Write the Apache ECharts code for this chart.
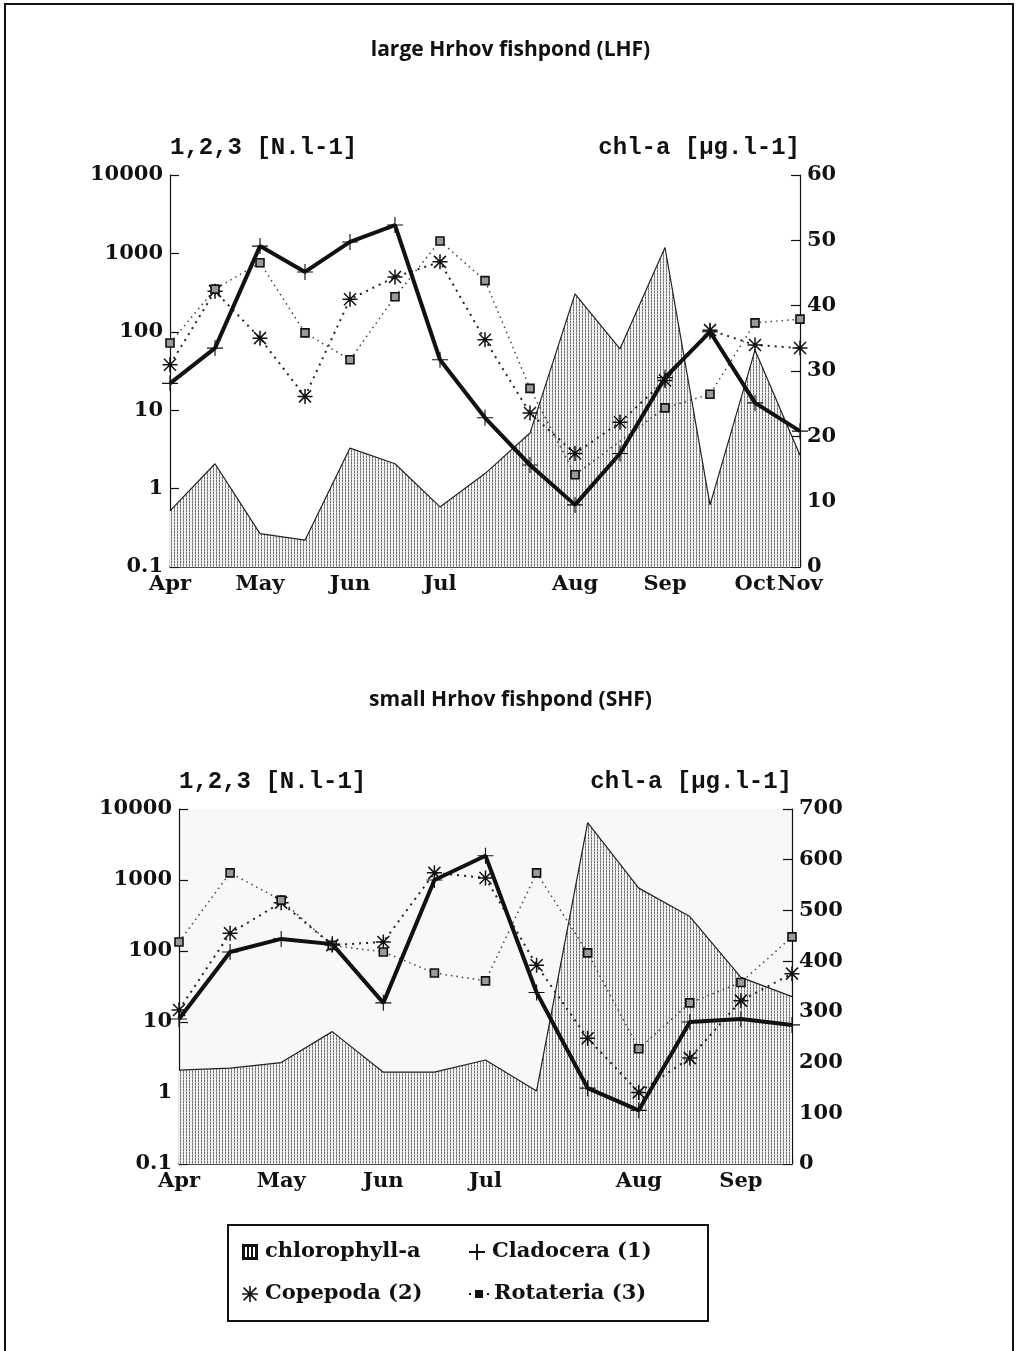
<!DOCTYPE html>
<html>
<head>
<meta charset="utf-8">
<script src="https://cdn.jsdelivr.net/npm/echarts@6/dist/echarts.min.js"></script>
<style>
html,body{margin:0;padding:0;background:#fff;}
#main{width:1021px;height:1351px;}
</style>
</head>
<body>
<div id="main"></div>
<script>
// ---- data ----
const topCategories = ['Apr','','May','','Jun','','Jul','','','Aug','','Sep','','Oct','Nov'];
const topChlorophyll = [8.6,15.8,5.1,4.1,18.2,15.8,9.2,14.3,20.5,41.8,33.4,48.9,9.5,33.2,17.1];
const topCladocera = [22,62,1240,580,1400,2300,44,8,2.0,0.62,2.8,26,100,12.4,5.4];
const topCopepoda = [38,330,83,15,260,500,780,79,9.2,2.8,7,24,105,68,62];
const topRotatoria = [72,350,760,97,44,280,1440,450,19,1.5,null,10.7,16,130,145];

const botCategories = ['Apr','','May','','Jun','','Jul','','','Aug','','Sep',''];
const botChlorophyll = [185,189,200,261,181,181,205,144,673,544,488,368,330];
const botCladocera = [11,97,148,125,18.6,1000,2200,26,1.17,0.57,10,11,9.1];
const botCopepoda = [14.8,178,480,121,134,1260,1070,63,5.9,1.02,3.1,20,48];
const botRotatoria = [134,1260,520,120,97,49,38,1260,94,4.2,18.6,36,158];

const titles = ['large Hrhov fishpond (LHF)', 'small Hrhov fishpond (SHF)'];
const leftAxisName = '1,2,3 [N.l-1]';
const rightAxisName = 'chl-a [µg.l-1]';
const seriesNames = ['chlorophyll-a', 'Cladocera (1)', 'Copepoda (2)', 'Rotateria (3)'];

// ---- styling helpers ----
const ink = '#111';
const tickFont = {fontFamily:'DejaVu Serif', fontWeight:'bold', fontSize:21, color:ink};
const nameFont = {fontFamily:'Liberation Mono', fontWeight:'bold', fontSize:24, color:ink};
const titleFont = {fontFamily:'Open Sans', fontWeight:'bold', fontSize:21, color:ink};

function hatch(){
  const c = document.createElement('canvas');
  c.width = 3; c.height = 3;
  const g = c.getContext('2d');
  g.fillStyle = '#f2f2f2'; g.fillRect(0,0,3,3);
  g.fillStyle = '#707070'; g.fillRect(0,0,1,2);
  g.fillStyle = '#b0b0b0'; g.fillRect(0,2,1,1);
  return c;
}
const hatchPattern = {image: hatch(), repeat: 'repeat'};

const plusSym = 'path://M0,9.3 L20,9.3 L20,10.7 L0,10.7 Z M9.3,0 L10.7,0 L10.7,20 L9.3,20 Z';
const plusIcon = 'path://M0,8.8 L20,8.8 L20,11.2 L0,11.2 Z M8.8,0 L11.2,0 L11.2,20 L8.8,20 Z';
const starSym = 'path://M9,0 L11,0 L11,20 L9,20 Z M0,9 L20,9 L20,11 L0,11 Z ' +
  'M2.7,1.3 L18.7,17.3 L17.3,18.7 L1.3,2.7 Z M17.3,1.3 L18.7,2.7 L2.7,18.7 L1.3,17.3 Z';
const hatchIcon = 'path://M0,0 L16,0 L16,16 L0,16 Z M3,3 L3,13 L5,13 L5,3 Z M7,3 L7,13 L9,13 L9,3 Z M11,3 L11,13 L13,13 L13,3 Z';
const dotSquareIcon = 'path://M0,9 L2,9 L2,11 L0,11 Z M18,9 L20,9 L20,11 L18,11 Z M6,6 L14,6 L14,14 L6,14 Z';

function logFmt(v){ return v < 1 ? v.toFixed(1) : String(Math.round(v)); }

function makeAxes(gi, rightMax, rightInterval){
  return {
    x: {
      type:'category', gridIndex:gi, data: gi===0 ? topCategories : botCategories,
      boundaryGap:false,
      axisLine:{lineStyle:{color:ink, width:1.5}},
      axisTick:{inside:true, length:7, interval:0, lineStyle:{color:ink, width:1.2}},
      axisLabel:Object.assign({interval:0, margin:7}, tickFont),
      splitLine:{show:false}
    },
    yl: {
      type:'log', gridIndex:gi, min:0.1, max:10000, logBase:10,
      position:'left',
      name:leftAxisName, nameLocation:'end', nameGap:15,
      nameTextStyle:Object.assign({align:'left'}, nameFont),
      axisLine:{show:true, lineStyle:{color:ink, width:1.2}},
      axisTick:{show:true, inside:true, length:9, lineStyle:{color:ink, width:1.2}},
      axisLabel:Object.assign({margin:7, formatter:logFmt}, tickFont),
      splitLine:{show:false}, minorTick:{show:false}
    },
    yr: {
      type:'value', gridIndex:gi, min:0, max:rightMax, interval:rightInterval,
      position:'right',
      name:rightAxisName, nameLocation:'end', nameGap:15,
      nameTextStyle:Object.assign({align:'right'}, nameFont),
      axisLine:{show:true, lineStyle:{color:ink, width:1.2}},
      axisTick:{show:true, inside:true, length:9, lineStyle:{color:ink, width:1.2}},
      axisLabel:Object.assign({margin:7}, tickFont),
      splitLine:{show:false}
    }
  };
}
const a0 = makeAxes(0, 60, 10);
const a1 = makeAxes(1, 700, 100);

function seriesFor(gi, chl, clad, cope, rot){
  const xi = gi, ylIdx = gi*2, yrIdx = gi*2+1;
  return [
    {name:seriesNames[0], type:'line', xAxisIndex:xi, yAxisIndex:yrIdx, data:chl,
     symbol:'none', z:1, silent:true,
     itemStyle:{color:ink},
     lineStyle:{color:'#222', width:1.2},
     areaStyle:{color:hatchPattern, opacity:1}},
    {name:seriesNames[1], type:'line', xAxisIndex:xi, yAxisIndex:ylIdx, data:clad,
     symbol:plusSym, symbolSize:16, z:4,
     itemStyle:{color:ink},
     lineStyle:{color:ink, width:4}},
    {name:seriesNames[2], type:'line', xAxisIndex:xi, yAxisIndex:ylIdx, data:cope,
     symbol:starSym, symbolSize:15, z:3,
     itemStyle:{color:ink},
     lineStyle:{color:'#222', width:2, type:[2,5]}},
    {name:seriesNames[3], type:'line', xAxisIndex:xi, yAxisIndex:ylIdx, data:rot,
     symbol:'rect', symbolSize:8, z:3, connectNulls:true,
     itemStyle:{color:'#9a9a9a', borderColor:ink, borderWidth:1.6},
     lineStyle:{color:'#444', width:1.5, type:[1.5,4]}}
  ];
}

const chart = echarts.init(document.getElementById('main'), null, {renderer:'canvas'});
chart.setOption({
  backgroundColor:'#fff',
  animation:false,
  title:[
    {text:titles[0], left:'center', top:40, padding:0, textStyle:titleFont},
    {text:titles[1], left:'center', top:690, padding:0, textStyle:titleFont}
  ],
  grid:[
    {left:170, right:221, top:175, height:392, containLabel:false},
    {left:179, right:229, top:809, height:355, containLabel:false,
     show:true, backgroundColor:'#f8f8f8', borderWidth:0}
  ],
  xAxis:[a0.x, a1.x],
  yAxis:[a0.yl, a0.yr, a1.yl, a1.yr],
  legend:{
    left:228, top:1225, width:462,
    orient:'horizontal',
    borderColor:ink, borderWidth:2, padding:[13,24,13,14],
    itemWidth:20, itemHeight:16, itemGap:14,
    textStyle:{fontFamily:'DejaVu Serif', fontWeight:'bold', fontSize:21, color:ink, width:190, lineHeight:28},
    data:[
      {name:seriesNames[0], icon:hatchIcon, itemStyle:{color:ink}},
      {name:seriesNames[1], icon:plusIcon, itemStyle:{color:ink}},
      {name:seriesNames[2], icon:starSym, itemStyle:{color:ink}},
      {name:seriesNames[3], icon:dotSquareIcon, itemStyle:{color:ink, borderWidth:0}}
    ]
  },
  graphic:[
    {type:'rect', silent:true, z:100,
     shape:{x:5, y:4, width:1008, height:1400},
     style:{fill:null, stroke:ink, lineWidth:2}}
  ],
  series: seriesFor(0, topChlorophyll, topCladocera, topCopepoda, topRotatoria)
    .concat(seriesFor(1, botChlorophyll, botCladocera, botCopepoda, botRotatoria))
});
</script>
</body>
</html>
